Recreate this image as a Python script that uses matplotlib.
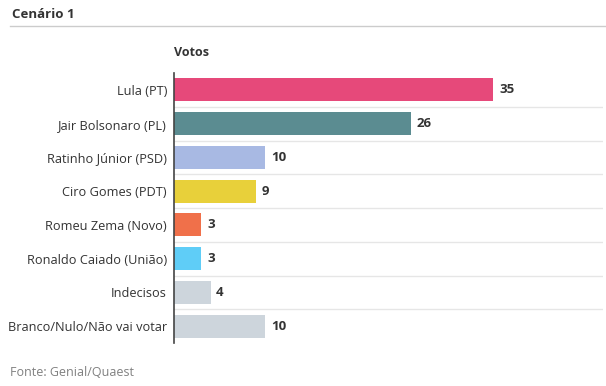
import matplotlib.pyplot as plt

# dados do cenario 1
candidatos = ['Lula (PT)', 'Jair Bolsonaro (PL)', 'Ratinho Júnior (PSD)', 'Ciro Gomes (PDT)',
              'Romeu Zema (Novo)', 'Ronaldo Caiado (União)', 'Indecisos', 'Branco/Nulo/Não vai votar']
votos = [35, 26, 10, 9, 3, 3, 4, 10]
cores = ['#e6497a', '#5b8c91', '#a8b9e3', '#e8d03a', '#f0704a', '#5fcdf7', '#cdd5dc', '#cdd5dc']

plt.rcParams['font.family'] = ['Open Sans', 'DejaVu Sans']

fig = plt.figure(figsize=(6.06, 3.86), dpi=100)
ax = fig.add_axes([174 / 606, 1 - 343 / 386, 429 / 606, 270 / 386])

pos = list(range(len(candidatos)))
ax.barh(pos, votos, height=0.68, color=cores)

# linhas separadoras entre as linhas
for k in range(len(candidatos) - 1):
    ax.axhline(k + 0.5, color='#e6e6e6', linewidth=1, zorder=0)

for p, v in zip(pos, votos):
    ax.annotate(str(v), (v, p), xytext=(4, 0), textcoords='offset points',
                va='center', ha='left', fontsize=9.5, fontweight='bold', color='#333333')

ax.set_xlim(0, 47)
ax.set_ylim(len(candidatos) - 0.5, -0.5)
ax.set_yticks(pos, candidatos, fontsize=9.2, color='#333333')
ax.set_xticks([])
ax.tick_params(axis='y', length=0, pad=5)
for s in ['top', 'right', 'bottom']:
    ax.spines[s].set_visible(False)
ax.spines['left'].set_color('#444444')
ax.spines['left'].set_linewidth(1.2)

fig.text(12 / 606, 1 - 15 / 386, 'Cenário 1', fontsize=9.5, fontweight='bold',
         color='#333333', va='center', ha='left')
fig.add_artist(plt.Line2D([10 / 606, 1], [1 - 26 / 386] * 2, color='#cccccc', linewidth=1))
fig.text(174 / 606, 1 - 53 / 386, 'Votos', fontsize=9, fontweight='bold',
         color='#333333', va='center', ha='left')
fig.text(10 / 606, 1 - 372 / 386, 'Fonte: Genial/Quaest', fontsize=9,
         color='#808080', va='center', ha='left')

fig.savefig('out.png', dpi=100)
